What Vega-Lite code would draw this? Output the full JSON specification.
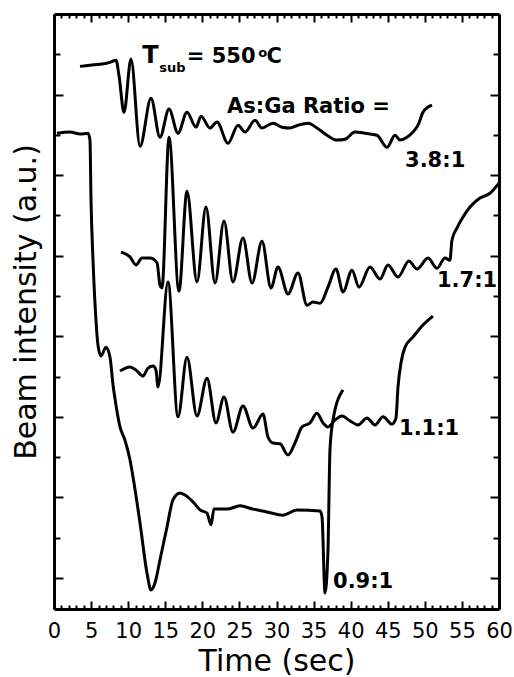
{
  "$schema": "https://vega.github.io/schema/vega-lite/v6.json",
  "width": 445,
  "height": 595,
  "autosize": {"type": "none"},
  "padding": {"left": 54, "top": 14, "right": 15, "bottom": 68},
  "background": "white",
  "config": {"view": {"stroke": null}, "font": "DejaVu Sans"},
  "datasets": {
    "curves": [
      {"ratio": "3.8:1", "t": 3.51, "v": 12.70},
      {"ratio": "3.8:1", "t": 4.85, "v": 12.73},
      {"ratio": "3.8:1", "t": 6.20, "v": 12.75},
      {"ratio": "3.8:1", "t": 7.55, "v": 12.80},
      {"ratio": "3.8:1", "t": 8.36, "v": 12.85},
      {"ratio": "3.8:1", "t": 8.76, "v": 12.48},
      {"ratio": "3.8:1", "t": 9.44, "v": 11.56},
      {"ratio": "3.8:1", "t": 10.38, "v": 12.88},
      {"ratio": "3.8:1", "t": 11.60, "v": 10.72},
      {"ratio": "3.8:1", "t": 13.08, "v": 11.91},
      {"ratio": "3.8:1", "t": 14.29, "v": 10.94},
      {"ratio": "3.8:1", "t": 15.51, "v": 11.64},
      {"ratio": "3.8:1", "t": 16.72, "v": 11.04},
      {"ratio": "3.8:1", "t": 17.93, "v": 11.56},
      {"ratio": "3.8:1", "t": 19.15, "v": 11.19},
      {"ratio": "3.8:1", "t": 19.82, "v": 11.46},
      {"ratio": "3.8:1", "t": 21.03, "v": 11.17},
      {"ratio": "3.8:1", "t": 21.98, "v": 11.32},
      {"ratio": "3.8:1", "t": 23.46, "v": 10.79},
      {"ratio": "3.8:1", "t": 24.81, "v": 11.24},
      {"ratio": "3.8:1", "t": 25.75, "v": 11.07},
      {"ratio": "3.8:1", "t": 27.10, "v": 11.36},
      {"ratio": "3.8:1", "t": 28.04, "v": 11.17},
      {"ratio": "3.8:1", "t": 29.53, "v": 11.29},
      {"ratio": "3.8:1", "t": 30.74, "v": 11.19},
      {"ratio": "3.8:1", "t": 31.82, "v": 11.17},
      {"ratio": "3.8:1", "t": 32.90, "v": 11.24},
      {"ratio": "3.8:1", "t": 34.25, "v": 11.29},
      {"ratio": "3.8:1", "t": 35.46, "v": 11.17},
      {"ratio": "3.8:1", "t": 36.81, "v": 10.99},
      {"ratio": "3.8:1", "t": 38.16, "v": 10.87},
      {"ratio": "3.8:1", "t": 39.24, "v": 10.89},
      {"ratio": "3.8:1", "t": 40.58, "v": 11.07},
      {"ratio": "3.8:1", "t": 41.93, "v": 11.04},
      {"ratio": "3.8:1", "t": 43.55, "v": 10.99},
      {"ratio": "3.8:1", "t": 44.90, "v": 10.69},
      {"ratio": "3.8:1", "t": 45.98, "v": 10.99},
      {"ratio": "3.8:1", "t": 46.65, "v": 10.87},
      {"ratio": "3.8:1", "t": 47.59, "v": 10.94},
      {"ratio": "3.8:1", "t": 48.40, "v": 11.07},
      {"ratio": "3.8:1", "t": 49.08, "v": 11.24},
      {"ratio": "3.8:1", "t": 49.75, "v": 11.56},
      {"ratio": "3.8:1", "t": 50.43, "v": 11.69},
      {"ratio": "3.8:1", "t": 50.97, "v": 11.74},

      {"ratio": "1.7:1", "t": 9.03, "v": 8.09},
      {"ratio": "1.7:1", "t": 10.25, "v": 7.97},
      {"ratio": "1.7:1", "t": 11.06, "v": 7.77},
      {"ratio": "1.7:1", "t": 11.87, "v": 7.94},
      {"ratio": "1.7:1", "t": 12.94, "v": 7.94},
      {"ratio": "1.7:1", "t": 13.89, "v": 7.82},
      {"ratio": "1.7:1", "t": 14.29, "v": 7.27},
      {"ratio": "1.7:1", "t": 14.56, "v": 7.20},
      {"ratio": "1.7:1", "t": 15.51, "v": 10.94},
      {"ratio": "1.7:1", "t": 16.85, "v": 7.12},
      {"ratio": "1.7:1", "t": 17.93, "v": 9.60},
      {"ratio": "1.7:1", "t": 19.28, "v": 7.35},
      {"ratio": "1.7:1", "t": 20.49, "v": 9.21},
      {"ratio": "1.7:1", "t": 21.71, "v": 7.32},
      {"ratio": "1.7:1", "t": 22.92, "v": 8.86},
      {"ratio": "1.7:1", "t": 24.13, "v": 7.35},
      {"ratio": "1.7:1", "t": 25.48, "v": 8.44},
      {"ratio": "1.7:1", "t": 26.70, "v": 7.32},
      {"ratio": "1.7:1", "t": 28.04, "v": 8.36},
      {"ratio": "1.7:1", "t": 29.26, "v": 7.20},
      {"ratio": "1.7:1", "t": 30.20, "v": 7.72},
      {"ratio": "1.7:1", "t": 31.55, "v": 7.05},
      {"ratio": "1.7:1", "t": 32.90, "v": 7.57},
      {"ratio": "1.7:1", "t": 34.11, "v": 6.77},
      {"ratio": "1.7:1", "t": 34.92, "v": 6.85},
      {"ratio": "1.7:1", "t": 35.87, "v": 6.82},
      {"ratio": "1.7:1", "t": 36.94, "v": 7.22},
      {"ratio": "1.7:1", "t": 38.02, "v": 7.67},
      {"ratio": "1.7:1", "t": 38.97, "v": 7.10},
      {"ratio": "1.7:1", "t": 40.18, "v": 7.64},
      {"ratio": "1.7:1", "t": 41.12, "v": 7.22},
      {"ratio": "1.7:1", "t": 42.61, "v": 7.72},
      {"ratio": "1.7:1", "t": 43.96, "v": 7.42},
      {"ratio": "1.7:1", "t": 45.03, "v": 7.77},
      {"ratio": "1.7:1", "t": 46.38, "v": 7.47},
      {"ratio": "1.7:1", "t": 47.86, "v": 7.87},
      {"ratio": "1.7:1", "t": 48.94, "v": 7.67},
      {"ratio": "1.7:1", "t": 50.43, "v": 7.94},
      {"ratio": "1.7:1", "t": 51.64, "v": 7.69},
      {"ratio": "1.7:1", "t": 52.72, "v": 7.94},
      {"ratio": "1.7:1", "t": 53.39, "v": 7.89},
      {"ratio": "1.7:1", "t": 53.66, "v": 8.39},
      {"ratio": "1.7:1", "t": 54.34, "v": 8.69},
      {"ratio": "1.7:1", "t": 55.15, "v": 8.96},
      {"ratio": "1.7:1", "t": 56.09, "v": 9.21},
      {"ratio": "1.7:1", "t": 57.44, "v": 9.43},
      {"ratio": "1.7:1", "t": 58.79, "v": 9.55},
      {"ratio": "1.7:1", "t": 60.0, "v": 9.80},

      {"ratio": "1.1:1", "t": 8.90, "v": 5.14},
      {"ratio": "1.1:1", "t": 10.25, "v": 5.24},
      {"ratio": "1.1:1", "t": 11.06, "v": 5.16},
      {"ratio": "1.1:1", "t": 12.00, "v": 5.01},
      {"ratio": "1.1:1", "t": 12.67, "v": 5.21},
      {"ratio": "1.1:1", "t": 13.35, "v": 5.26},
      {"ratio": "1.1:1", "t": 13.75, "v": 5.16},
      {"ratio": "1.1:1", "t": 14.02, "v": 4.74},
      {"ratio": "1.1:1", "t": 15.37, "v": 7.35},
      {"ratio": "1.1:1", "t": 16.72, "v": 4.00},
      {"ratio": "1.1:1", "t": 17.93, "v": 5.48},
      {"ratio": "1.1:1", "t": 19.28, "v": 4.02},
      {"ratio": "1.1:1", "t": 20.63, "v": 4.96},
      {"ratio": "1.1:1", "t": 21.84, "v": 3.85},
      {"ratio": "1.1:1", "t": 22.92, "v": 4.49},
      {"ratio": "1.1:1", "t": 24.13, "v": 3.62},
      {"ratio": "1.1:1", "t": 25.48, "v": 4.27},
      {"ratio": "1.1:1", "t": 26.83, "v": 3.72},
      {"ratio": "1.1:1", "t": 28.18, "v": 4.07},
      {"ratio": "1.1:1", "t": 28.85, "v": 3.50},
      {"ratio": "1.1:1", "t": 29.53, "v": 3.35},
      {"ratio": "1.1:1", "t": 30.47, "v": 3.33},
      {"ratio": "1.1:1", "t": 31.55, "v": 3.05},
      {"ratio": "1.1:1", "t": 32.49, "v": 3.35},
      {"ratio": "1.1:1", "t": 33.44, "v": 3.75},
      {"ratio": "1.1:1", "t": 34.52, "v": 3.85},
      {"ratio": "1.1:1", "t": 35.46, "v": 4.09},
      {"ratio": "1.1:1", "t": 36.27, "v": 3.85},
      {"ratio": "1.1:1", "t": 36.94, "v": 3.75},
      {"ratio": "1.1:1", "t": 37.89, "v": 3.92},
      {"ratio": "1.1:1", "t": 38.83, "v": 4.02},
      {"ratio": "1.1:1", "t": 39.91, "v": 3.90},
      {"ratio": "1.1:1", "t": 40.99, "v": 3.80},
      {"ratio": "1.1:1", "t": 42.20, "v": 3.97},
      {"ratio": "1.1:1", "t": 43.28, "v": 3.80},
      {"ratio": "1.1:1", "t": 44.36, "v": 4.00},
      {"ratio": "1.1:1", "t": 45.57, "v": 3.82},
      {"ratio": "1.1:1", "t": 46.11, "v": 3.97},
      {"ratio": "1.1:1", "t": 46.38, "v": 4.74},
      {"ratio": "1.1:1", "t": 46.79, "v": 5.34},
      {"ratio": "1.1:1", "t": 47.33, "v": 5.73},
      {"ratio": "1.1:1", "t": 48.40, "v": 5.98},
      {"ratio": "1.1:1", "t": 49.75, "v": 6.28},
      {"ratio": "1.1:1", "t": 51.10, "v": 6.50},

      {"ratio": "0.9:1", "t": 0.40, "v": 11.04},
      {"ratio": "0.9:1", "t": 2.16, "v": 11.07},
      {"ratio": "0.9:1", "t": 3.51, "v": 11.02},
      {"ratio": "0.9:1", "t": 4.58, "v": 11.04},
      {"ratio": "0.9:1", "t": 4.85, "v": 10.87},
      {"ratio": "0.9:1", "t": 4.99, "v": 9.38},
      {"ratio": "0.9:1", "t": 5.26, "v": 7.89},
      {"ratio": "0.9:1", "t": 5.66, "v": 6.40},
      {"ratio": "0.9:1", "t": 5.93, "v": 5.78},
      {"ratio": "0.9:1", "t": 6.34, "v": 5.51},
      {"ratio": "0.9:1", "t": 7.01, "v": 5.73},
      {"ratio": "0.9:1", "t": 7.55, "v": 5.48},
      {"ratio": "0.9:1", "t": 7.96, "v": 4.79},
      {"ratio": "0.9:1", "t": 8.36, "v": 4.29},
      {"ratio": "0.9:1", "t": 8.90, "v": 3.75},
      {"ratio": "0.9:1", "t": 9.57, "v": 3.42},
      {"ratio": "0.9:1", "t": 10.25, "v": 2.93},
      {"ratio": "0.9:1", "t": 10.65, "v": 2.51},
      {"ratio": "0.9:1", "t": 11.60, "v": 1.36},
      {"ratio": "0.9:1", "t": 12.54, "v": 0.12},
      {"ratio": "0.9:1", "t": 13.08, "v": -0.30},
      {"ratio": "0.9:1", "t": 13.62, "v": -0.12},
      {"ratio": "0.9:1", "t": 14.29, "v": 0.45},
      {"ratio": "0.9:1", "t": 15.24, "v": 1.27},
      {"ratio": "0.9:1", "t": 16.04, "v": 1.94},
      {"ratio": "0.9:1", "t": 16.99, "v": 2.11},
      {"ratio": "0.9:1", "t": 17.66, "v": 2.06},
      {"ratio": "0.9:1", "t": 18.74, "v": 1.89},
      {"ratio": "0.9:1", "t": 19.69, "v": 1.69},
      {"ratio": "0.9:1", "t": 20.63, "v": 1.61},
      {"ratio": "0.9:1", "t": 21.17, "v": 1.32},
      {"ratio": "0.9:1", "t": 21.57, "v": 1.71},
      {"ratio": "0.9:1", "t": 23.33, "v": 1.71},
      {"ratio": "0.9:1", "t": 25.08, "v": 1.79},
      {"ratio": "0.9:1", "t": 26.83, "v": 1.71},
      {"ratio": "0.9:1", "t": 28.72, "v": 1.64},
      {"ratio": "0.9:1", "t": 30.88, "v": 1.56},
      {"ratio": "0.9:1", "t": 32.76, "v": 1.69},
      {"ratio": "0.9:1", "t": 35.87, "v": 1.66},
      {"ratio": "0.9:1", "t": 36.14, "v": 1.51},
      {"ratio": "0.9:1", "t": 36.54, "v": -0.37},
      {"ratio": "0.9:1", "t": 36.94, "v": 0.69},
      {"ratio": "0.9:1", "t": 37.21, "v": 3.18},
      {"ratio": "0.9:1", "t": 37.62, "v": 3.92},
      {"ratio": "0.9:1", "t": 38.97, "v": 4.67}
    ],
    "labels": [
      {"label": "3.8:1", "t": 47.33, "v": 10.20},
      {"label": "1.7:1", "t": 51.64, "v": 7.22},
      {"label": "1.1:1", "t": 46.52, "v": 3.55},
      {"label": "0.9:1", "t": 37.62, "v": -0.25},
      {"label": "As:Ga Ratio =", "t": 23.33, "v": 11.54},
      {"label": "= 550", "t": 17.9, "v": 12.78},
      {"label": "C", "t": 28.65, "v": 12.78}
    ],
    "bigT": [
      {"label": "T", "t": 11.9, "v": 12.78}
    ],
    "small": [
      {"label": "sub", "t": 14.2, "v": 12.56},
      {"label": "o", "t": 27.55, "v": 12.93}
    ]
  },
  "layer": [
    {
      "data": {"name": "curves"},
      "mark": {"type": "line", "color": "black", "strokeWidth": 3, "interpolate": "monotone"},
      "encoding": {
        "x": {
          "field": "t", "type": "quantitative",
          "scale": {"domain": [0, 60], "nice": false, "zero": false},
          "axis": {
            "orient": "bottom",
            "values": [0,1,2,3,4,5,6,7,8,9,10,11,12,13,14,15,16,17,18,19,20,21,22,23,24,25,26,27,28,29,30,31,32,33,34,35,36,37,38,39,40,41,42,43,44,45,46,47,48,49,50,51,52,53,54,55,56,57,58,59,60],
            "labelExpr": "datum.value % 5 === 0 ? datum.label : ''",
            "labelOverlap": false,
            "labelFlush": false,
            "tickSize": {"condition": {"test": "datum.value % 5 === 0", "value": -8}, "value": -4},
            "tickWidth": 2,
            "tickColor": "black",
            "domainColor": "black",
            "domainWidth": 3,
            "grid": false,
            "labelFont": "DejaVu Sans",
            "labelFontSize": 21,
            "labelColor": "black",
            "labelPadding": 19,
            "title": "Time (sec)",
            "titleFont": "DejaVu Sans",
            "titleFontSize": 30,
            "titleFontWeight": "normal",
            "titleColor": "black",
            "titleX": 222.5,
            "titleY": 61,
            "titleAlign": "center",
            "titleBaseline": "alphabetic"
          }
        },
        "y": {
          "field": "v", "type": "quantitative",
          "scale": {"domain": [-0.77, 14.0], "nice": false, "zero": false},
          "axis": {
            "orient": "left",
            "values": [0,1,2,3,4,5,6,7,8,9,10,11,12,13],
            "labels": false,
            "tickSize": {"condition": {"test": "datum.value % 2 === 0", "value": -9}, "value": -6},
            "tickWidth": 2,
            "tickColor": "black",
            "domainColor": "black",
            "domainWidth": 3,
            "grid": false,
            "title": "Beam intensity (a.u.)",
            "titleFont": "DejaVu Sans",
            "titleFontSize": 30,
            "titleFontWeight": "normal",
            "titleColor": "black",
            "titleAngle": -90,
            "titleX": -19,
            "titleY": 287.5,
            "titleAlign": "center",
            "titleBaseline": "alphabetic"
          }
        },
        "detail": {"field": "ratio", "type": "nominal"}
      }
    },
    {
      "data": {"name": "labels"},
      "mark": {"type": "text", "font": "DejaVu Sans", "fontWeight": "bold", "fontSize": 21, "align": "left", "baseline": "alphabetic", "color": "black"},
      "encoding": {
        "x": {
          "field": "t", "type": "quantitative",
          "axis": {
            "orient": "top",
            "values": [0,1,2,3,4,5,6,7,8,9,10,11,12,13,14,15,16,17,18,19,20,21,22,23,24,25,26,27,28,29,30,31,32,33,34,35,36,37,38,39,40,41,42,43,44,45,46,47,48,49,50,51,52,53,54,55,56,57,58,59,60],
            "labels": false,
            "tickSize": {"condition": {"test": "datum.value % 5 === 0", "value": -8}, "value": -4},
            "tickWidth": 2,
            "tickColor": "black",
            "domainColor": "black",
            "domainWidth": 3,
            "grid": false,
            "title": null
          }
        },
        "y": {
          "field": "v", "type": "quantitative",
          "axis": {
            "orient": "right",
            "values": [0,1,2,3,4,5,6,7,8,9,10,11,12,13],
            "labels": false,
            "tickSize": {"condition": {"test": "datum.value % 2 === 0", "value": -9}, "value": -6},
            "tickWidth": 2,
            "tickColor": "black",
            "domainColor": "black",
            "domainWidth": 3,
            "grid": false,
            "title": null
          }
        },
        "text": {"field": "label", "type": "nominal"}
      }
    },
    {
      "data": {"name": "bigT"},
      "mark": {"type": "text", "font": "DejaVu Sans", "fontWeight": "bold", "fontSize": 24, "align": "left", "baseline": "alphabetic", "color": "black"},
      "encoding": {
        "x": {"field": "t", "type": "quantitative", "axis": null},
        "y": {"field": "v", "type": "quantitative", "axis": null},
        "text": {"field": "label", "type": "nominal"}
      }
    },
    {
      "data": {"name": "small"},
      "mark": {"type": "text", "font": "DejaVu Sans", "fontWeight": "bold", "fontSize": 13, "align": "left", "baseline": "alphabetic", "color": "black"},
      "encoding": {
        "x": {"field": "t", "type": "quantitative", "axis": null},
        "y": {"field": "v", "type": "quantitative", "axis": null},
        "text": {"field": "label", "type": "nominal"}
      }
    }
  ],
  "resolve": {"axis": {"x": "independent", "y": "independent"}}
}
